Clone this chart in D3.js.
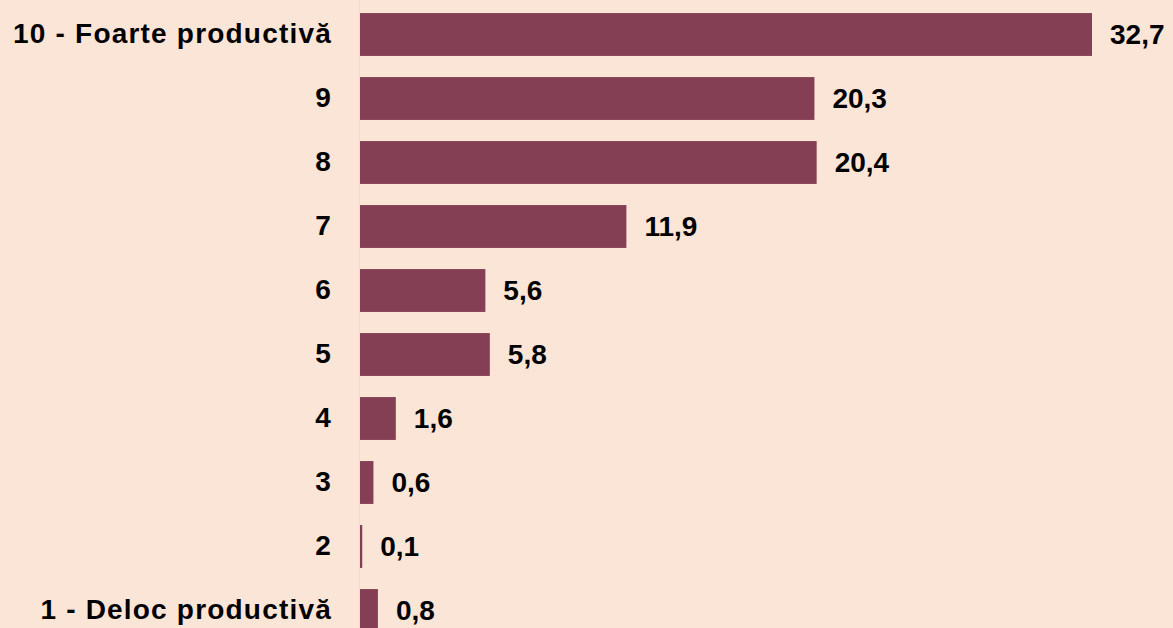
<!DOCTYPE html>
<html>
<head>
<meta charset="utf-8">
<script src="https://cdn.jsdelivr.net/npm/d3@7"></script>
<style>
  html, body { margin: 0; padding: 0; background: #FBE5D7; }
  svg { display: block; }
  text { font-family: "Liberation Sans", Arial, sans-serif; font-weight: bold; fill: #000; }
</style>
</head>
<body>
<svg id="chart" width="1173" height="628"></svg>
<script>
// Productivity rating categories, top to bottom
const categories = ["10 - Foarte productivă", "9", "8", "7", "6", "5", "4", "3", "2", "1 - Deloc productivă"];
// Share of respondents (%)
const values = [32.7, 20.3, 20.4, 11.9, 5.6, 5.8, 1.6, 0.6, 0.1, 0.8];
const valueLabels = ["32,7", "20,3", "20,4", "11,9", "5,6", "5,8", "1,6", "0,6", "0,1", "0,8"];

const svg = d3.select("#chart");
const W = 1173, H = 628;
const x0 = 360;

svg.append("rect").attr("width", W).attr("height", H).attr("fill", "#FBE5D7");

const x = d3.scaleLinear().domain([0, 32.7]).range([x0, 1092]);
const y = d3.scaleBand().domain(categories).range([2.5, 642.5])
  .paddingInner(0.33).paddingOuter(0.165);

// faint axis line
svg.append("line")
  .attr("x1", x0 - 0.5).attr("x2", x0 - 0.5)
  .attr("y1", 0).attr("y2", H)
  .attr("stroke", "#F1DACB").attr("stroke-width", 1);

const rows = categories.map((c, i) => ({ c, v: values[i], label: valueLabels[i] }));

svg.append("g").selectAll("rect").data(rows).join("rect")
  .attr("x", x(0))
  .attr("y", d => y(d.c))
  .attr("width", d => x(d.v) - x(0))
  .attr("height", y.bandwidth())
  .attr("fill", "#853F55");

// category labels
const yAxis = d3.axisLeft(y).tickSize(0).tickPadding(28);
const gAxis = svg.append("g").attr("transform", `translate(${x0},0)`).call(yAxis);
gAxis.select(".domain").remove();
gAxis.selectAll("text")
  .attr("font-size", 28)
  .attr("font-family", "Liberation Sans, Arial, sans-serif")
  .attr("font-weight", "bold")
  .attr("letter-spacing", "1.2px")
  .attr("fill", "#000");

// value labels
svg.append("g").selectAll("text").data(rows).join("text")
  .attr("x", d => x(d.v) + 18)
  .attr("y", d => y(d.c) + y.bandwidth() / 2)
  .attr("dy", "0.35em")
  .attr("font-size", 28)
  .text(d => d.label);
</script>
</body>
</html>
